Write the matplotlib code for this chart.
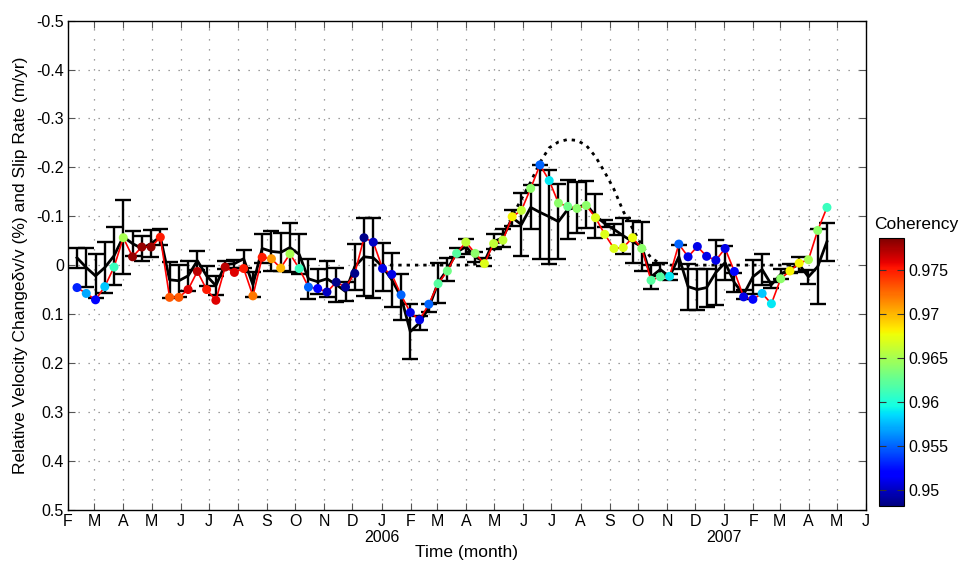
import numpy as np
import pandas as pd
import matplotlib
matplotlib.use("Agg")
import matplotlib.pyplot as plt
import matplotlib.dates as mdates
from matplotlib.transforms import blended_transform_factory

plt.rcParams['font.family'] = ['Liberation Sans', 'DejaVu Sans']

# ---- data ----
first_date = "2005-02-10 14:00"
last_date = "2007-04-20 10:00"
n_samples = 82

velocity_change = [
    0.046, 0.058, 0.071, 0.044, 0.004, -0.056, -0.017, -0.037, -0.037, -0.057,
    0.066, 0.066, 0.050, 0.013, 0.050, 0.072, 0.004, 0.015, 0.007, 0.063,
    -0.016, -0.013, 0.006, -0.023, 0.007, 0.045, 0.048, 0.055, 0.035, 0.045,
    0.017, -0.056, -0.047, 0.007, 0.019, 0.061, 0.097, 0.112, 0.080, 0.038,
    0.012, -0.024, -0.047, -0.024, -0.003, -0.044, -0.051, -0.099, -0.112, -0.157,
    -0.205, -0.173, -0.127, -0.120, -0.116, -0.122, -0.097, -0.063, -0.034, -0.036,
    -0.056, -0.034, 0.031, 0.024, 0.023, -0.043, -0.017, -0.038, -0.018, -0.010,
    -0.034, 0.013, 0.065, 0.070, 0.058, 0.079, 0.028, 0.012, -0.004, -0.011,
    -0.071, -0.118]

coherency = [
    0.953, 0.957, 0.952, 0.958, 0.961, 0.965, 0.978, 0.978, 0.978, 0.975,
    0.973, 0.973, 0.976, 0.977, 0.975, 0.976, 0.977, 0.976, 0.975, 0.972,
    0.975, 0.971, 0.970, 0.965, 0.961, 0.955, 0.952, 0.950, 0.9485, 0.949,
    0.9485, 0.9485, 0.950, 0.951, 0.951, 0.955, 0.951, 0.951, 0.955, 0.962,
    0.963, 0.962, 0.966, 0.964, 0.967, 0.966, 0.966, 0.968, 0.966, 0.964,
    0.955, 0.959, 0.964, 0.963, 0.964, 0.964, 0.967, 0.967, 0.967, 0.967,
    0.9675, 0.964, 0.962, 0.962, 0.959, 0.955, 0.951, 0.951, 0.951, 0.951,
    0.951, 0.952, 0.951, 0.952, 0.958, 0.959, 0.964, 0.968, 0.968, 0.965,
    0.964, 0.961]

mean_change = [
    -0.015, 0.005, 0.022, 0.005, -0.019, -0.058, -0.044, -0.034, -0.044, -0.058,
    0.030, 0.032, 0.022, -0.009, 0.022, 0.042, -0.001, -0.003, -0.013, 0.040,
    -0.034, -0.028, -0.026, -0.036, -0.022, 0.028, 0.034, 0.028, 0.040, 0.054,
    0.003, -0.017, -0.015, 0.003, 0.030, 0.065, 0.136, 0.118, 0.087, 0.036,
    0.009, -0.026, -0.038, -0.017, -0.007, -0.048, -0.056, -0.097, -0.083, -0.118,
    -0.108, -0.099, -0.089, -0.114, -0.118, -0.124, -0.101, -0.085, -0.073, -0.060,
    -0.048, -0.038, 0.024, 0.009, 0.024, -0.017, 0.044, 0.050, 0.046, 0.015,
    -0.005, 0.036, 0.060, 0.024, 0.009, 0.040, 0.019, 0.007, -0.001, 0.024,
    0.003, -0.048]

mean_error = [
    0.020, 0.039, 0.045, 0.053, 0.059, 0.076, 0.025, 0.025, 0.027, 0.016,
    0.037, 0.033, 0.031, 0.020, 0.020, 0.020, 0.008, 0.008, 0.018, 0.025,
    0.029, 0.041, 0.039, 0.051, 0.041, 0.041, 0.025, 0.037, 0.035, 0.020,
    0.047, 0.080, 0.082, 0.049, 0.055, 0.047, 0.057, 0.014, 0.008, 0.041,
    0.023, 0.010, 0.016, 0.010, 0.008, 0.016, 0.018, 0.016, 0.064, 0.045,
    0.096, 0.096, 0.076, 0.061, 0.053, 0.049, 0.045, 0.008, 0.012, 0.037,
    0.043, 0.051, 0.025, 0.014, 0.006, 0.025, 0.047, 0.041, 0.039, 0.066,
    0.035, 0.020, 0.010, 0.035, 0.031, 0.006, 0.010, 0.010, 0.016, 0.014,
    0.076, 0.039]

nan = np.nan
slip_rate = [nan] * 32 + [
    0.0, 0.0, 0.0, 0.0, 0.0, 0.0, 0.0, 0.0, 0.0, 0.0, 0.0,
    -0.002, -0.011, -0.030, -0.060, -0.100, -0.135, -0.170, -0.210, -0.240,
    -0.252, -0.257, -0.255, -0.245, -0.222, -0.190, -0.155, -0.110, -0.075,
    -0.040, -0.015, -0.003,
    0.0, 0.0, 0.0, 0.0, 0.0, 0.0, 0.0, 0.0, 0.0, 0.0, 0.0, 0.0, 0.0, 0.0, 0.0] + [nan] * 3

month_letters = ['F', 'M', 'A', 'M', 'J', 'J', 'A', 'S', 'O', 'N', 'D',
                 'J', 'F', 'M', 'A', 'M', 'J', 'J', 'A', 'S', 'O', 'N', 'D',
                 'J', 'F', 'M', 'A', 'M', 'J']
year_labels = ['2006', '2007']
year_dates = ['2006-01-01', '2007-01-01']
y_ticks = [-0.5, -0.4, -0.3, -0.2, -0.1, 0, 0.1, 0.2, 0.3, 0.4, 0.5]
y_ticklabels = ['-0.5', '-0.4', '-0.3', '-0.2', '-0.1', '0', '0.1', '0.2', '0.3', '0.4', '0.5']
cbar_ticks = [0.95, 0.955, 0.96, 0.965, 0.97, 0.975]
cbar_ticklabels = ['0.95', '0.955', '0.96', '0.965', '0.97', '0.975']
coh_range = (0.9482, 0.9786)

# ---- figure ----
dates = pd.date_range(first_date, last_date, periods=n_samples)
month_ticks = pd.date_range('2005-02-01', '2007-06-01', freq='MS')

fig = plt.figure(figsize=(9.62, 5.63), dpi=100)
ax = fig.add_axes([68 / 962, 1 - 509.5 / 563, 798 / 962, (509.5 - 20.7) / 563])
cax = fig.add_axes([879 / 962, 1 - 506 / 563, 25 / 962, (506 - 238) / 563])

grid_style = dict(color='#808080', linestyle=(0, (1, 7)), linewidth=0.9, zorder=0)
for d in month_ticks[1:-1]:
    ax.axvline(d, **grid_style)
for yv in y_ticks[1:-1]:
    ax.axhline(yv, **grid_style)

ax.errorbar(dates, mean_change, yerr=mean_error, color='black', lw=2.0,
            elinewidth=1.7, capsize=5.5, capthick=1.7, zorder=2)
ax.plot(dates, slip_rate, color='black', lw=2.0, linestyle=(0, (1.2, 1.8)), zorder=3)
ax.plot(dates, velocity_change, color='red', lw=1.2, zorder=4)
sc = ax.scatter(dates, velocity_change, c=coherency, cmap='jet',
                vmin=coh_range[0], vmax=coh_range[1], s=42, zorder=5,
                edgecolors='none')

ax.set_xlim(month_ticks[0], month_ticks[-1])
ax.set_ylim(0.5, -0.5)
ax.set_yticks(y_ticks)
ax.set_yticklabels(y_ticklabels)
ax.set_xticks(month_ticks)
ax.set_xticklabels(month_letters)
ax.tick_params(direction='in', length=5, width=0.8, color='#555555',
               top=True, right=True, labelsize=11.5, pad=3)
for s in ax.spines.values():
    s.set_linewidth(1.0)

trans = blended_transform_factory(ax.transData, ax.transAxes)
for lab, d in zip(year_labels, year_dates):
    ax.text(pd.Timestamp(d), -0.057, lab, transform=trans, ha='center',
            va='center', fontsize=11.5)
ax.text(0.5, -0.088, 'Time (month)', transform=ax.transAxes, ha='center',
        va='center', fontsize=12.5)
ax.set_ylabel('Relative Velocity Change\u03b4v/v (%) and Slip Rate (m/yr)',
              fontsize=12.5, labelpad=6)

cb = fig.colorbar(sc, cax=cax)
cb.set_ticks(cbar_ticks)
cb.set_ticklabels(cbar_ticklabels)
cb.ax.tick_params(direction='in', length=5, width=0.8, labelsize=11.5,
                  left=True, right=True, color='#333333')
cb.outline.set_linewidth(0.8)
fig.text(916 / 962, 1 - 224 / 563, 'Coherency', ha='center', va='center',
         fontsize=12.5)

fig.savefig('out.png', dpi=100)
